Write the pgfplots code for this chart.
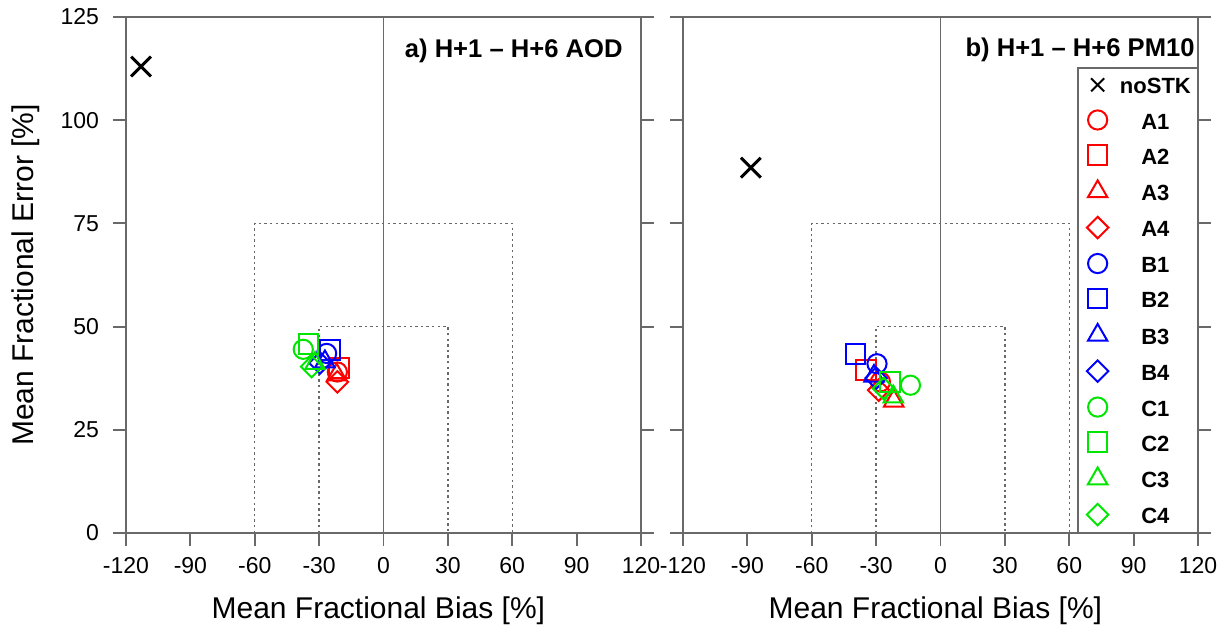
\documentclass[border=0pt]{standalone}
\usepackage{fontspec}
\setmainfont{Liberation Sans}
\usepackage{pgfplots}
\pgfplotsset{compat=1.18}
\definecolor{cA}{RGB}{255,0,0}
\definecolor{cB}{RGB}{0,0,255}
\definecolor{cC}{RGB}{0,230,0}
\definecolor{axgray}{RGB}{105,105,105}
\pgfplotsset{
  mfb/.style={
    scale only axis, width=257.5pt, height=258pt,
    xmin=-120, xmax=120, ymin=0, ymax=125,
    xtick={-120,-90,...,120}, ytick={0,25,...,125},
    tick align=outside, major tick length=6.5pt,
    xtick pos=left, ytick pos=both, yticklabel pos=left,
    axis line style={axgray, line width=0.9pt},
    every tick/.style={axgray, line width=0.9pt},
    tick label style={font=\fontsize{11.5}{13}\selectfont},
    yticklabel style={xshift=-3.5pt},
    xticklabel style={yshift=-2pt},
    /pgf/number format/assume math mode=true,
    xlabel={Mean Fractional Bias [\%]},
    label style={font=\fontsize{15}{17}\selectfont},
    xlabel style={at={(axis description cs:0.49,-0.151)}, anchor=center},
    clip=false,
  },
  circ/.style={only marks, mark=o, mark size=4.8pt, line width=1pt},
  sq/.style={only marks, mark=square, mark size=4.9pt, line width=1pt},
  tri/.style={only marks, mark=triangle, mark size=5.6pt, line width=1pt},
  dia/.style={only marks, mark=square, mark size=3.8pt, mark options={rotate=45}, line width=1pt},
  nostk/.style={only marks, mark=x, mark size=7pt, line width=1.5pt, black},
  ref/.style={axgray, line width=0.6pt, forget plot},
  refdot/.style={axgray, line width=0.7pt, dash pattern=on 1.2pt off 1.6pt, forget plot},
}
\begin{document}
\begin{tikzpicture}
\useasboundingbox (-63pt,-49.5pt) rectangle (550.5pt,266.5pt);
% ---------------- panel a ----------------
\begin{axis}[mfb, at={(0pt,0pt)}, anchor=south west,
  ylabel={Mean Fractional Error [\%]},
  ylabel style={at={(axis description cs:-0.194,0.5)}, anchor=center}]
\addplot[ref] coordinates {(0,0) (0,125)};
\addplot[refdot] coordinates {(-60,0) (-60,75) (60,75) (60,0)};
\addplot[refdot] coordinates {(-30,0) (-30,50) (30,50) (30,0)};
\addplot[nostk] coordinates {(-113,113)};
\addplot[circ, cA] coordinates {(-21.5,39)};
\addplot[sq, cA] coordinates {(-20.7,39.9)};
\addplot[tri, cA] coordinates {(-21.8,38.3)};
\addplot[dia, cA] coordinates {(-21.5,36.6)};
\addplot[circ, cB] coordinates {(-26.5,43.5)};
\addplot[sq, cB] coordinates {(-25,44.3)};
\addplot[tri, cB] coordinates {(-27.3,41.5)};
\addplot[dia, cB] coordinates {(-29.6,41.2)};
\addplot[circ, cC] coordinates {(-37.4,44.5)};
\addplot[sq, cC] coordinates {(-34.9,45.8)};
\addplot[tri, cC] coordinates {(-31.9,41.1)};
\addplot[dia, cC] coordinates {(-33.5,40.3)};
\node[anchor=north east, inner sep=0pt, font=\bfseries\fontsize{12.8}{14}\selectfont]
  at (rel axis cs:1,1) [xshift=-9pt, yshift=-11pt] {a) H+1 -- H+6 AOD};
\end{axis}
% ---------------- panel b ----------------
\begin{axis}[mfb, at={(278.5pt,0pt)}, anchor=south west,
  yticklabels={},
  legend style={at={(1,0)}, anchor=south east, draw=axgray, line width=0.6pt,
    font=\bfseries\fontsize{11}{12}\selectfont, fill=white,
    inner xsep=4.5pt, inner ysep=3.5pt, row sep=7.67pt, column sep=7pt,
    nodes={inner sep=0pt, text height=9.5pt, text depth=0.4pt}},
  legend image code/.code={\draw[#1] plot coordinates {(0pt,0pt)};},
  legend entries={\makebox[33pt]{noSTK},\makebox[33pt]{A1},\makebox[33pt]{A2},\makebox[33pt]{A3},\makebox[33pt]{A4},
    \makebox[33pt]{B1},\makebox[33pt]{B2},\makebox[33pt]{B3},\makebox[33pt]{B4},
    \makebox[33pt]{C1},\makebox[33pt]{C2},\makebox[33pt]{C3},\makebox[33pt]{C4}}]
\addplot[ref] coordinates {(0,0) (0,125)};
\addplot[refdot] coordinates {(-60,0) (-60,75) (60,75) (60,0)};
\addplot[refdot] coordinates {(-30,0) (-30,50) (30,50) (30,0)};
\addplot[nostk, legend image post style={mark size=4.6pt, line width=1pt}] coordinates {(-88.4,88.5)};
\addplot[circ, cA] coordinates {(-28,36.6)};
\addplot[sq, cA] coordinates {(-34.6,39.5)};
\addplot[tri, cA] coordinates {(-21.8,32)};
\addplot[dia, cA] coordinates {(-28.8,34.6)};
\addplot[circ, cB] coordinates {(-29.6,41)};
\addplot[sq, cB] coordinates {(-39.7,43.3)};
\addplot[tri, cB] coordinates {(-31,38)};
\addplot[dia, cB] coordinates {(-30,37.5)};
\addplot[circ, cC] coordinates {(-14,35.8)};
\addplot[sq, cC] coordinates {(-23.4,36.6)};
\addplot[tri, cC] coordinates {(-22,33)};
\addplot[dia, cC] coordinates {(-26.5,35)};
\node[anchor=north east, inner sep=0pt, font=\bfseries\fontsize{12.8}{14}\selectfont]
  at (rel axis cs:1,1) [xshift=-1.5pt, yshift=-10.5pt] {b) H+1 -- H+6 PM10};
\end{axis}
\end{tikzpicture}
\end{document}
